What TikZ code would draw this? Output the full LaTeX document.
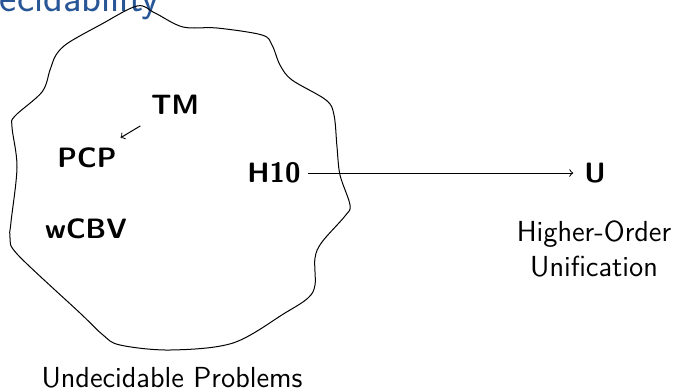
\documentclass[tikz,border=0pt]{standalone}
\usetikzlibrary{arrows}
\definecolor{titleblue}{RGB}{40,85,150}
\begin{document}
\begin{tikzpicture}[x=0.5pt,y=-0.5pt,
  prob/.style={font=\fontsize{14}{17}\selectfont\sffamily\bfseries},
  lbl/.style={font=\fontsize{14.5}{17.5}\selectfont\sffamily, align=center},
  ttl/.style={font=\fontsize{20.5}{24}\selectfont\sffamily, text=titleblue},
  link/.style={->, line width=0.5pt}]
\useasboundingbox (0,0) rectangle (678,391);
\clip (0,0) rectangle (678,391);
\fill[white] (0,0) rectangle (678,391);
% title (cut off at the top-left)
\node[ttl, anchor=base east, inner sep=0pt] (title) at (160,11) {Undecidability};
% blob
\draw[line width=0.5pt] plot[smooth cycle, tension=0.55] coordinates {
 (137,6) (155,13) (183,27) (217,28) (262,35) (272,45) (280,65) (292,80)
 (326,100) (334,115) (337,147) (340,175) (350,205) (345,216) (322,242)
 (315,258) (315,285) (308,298) (285,313) (233,343) (170,350) (120,345)
 (103,335) (80,313) (18,255) (10,238) (11,222) (17,167) (12,127) (15,116)
 (42,92) (50,70) (56,55) (68,43) (100,25)};
\node[prob] (TM) at (175,105) {TM};
\node[prob] (PCP) at (87,158) {PCP};
\node[prob] (H10) at (274,173) {H10};
\node[prob] (wCBV) at (86,229) {wCBV};
\node[prob] (U) at (595,173) {U};
\node[lbl] (HOU) at (594,249) {Higher-Order\\Unification};
\node[lbl] (UP) at (172,378) {Undecidable Problems};
\draw[link, shorten <=4pt, shorten >=3pt] (TM) -- (PCP);
\draw[link, shorten >=2pt] (H10) -- (U);
\end{tikzpicture}
\end{document}
